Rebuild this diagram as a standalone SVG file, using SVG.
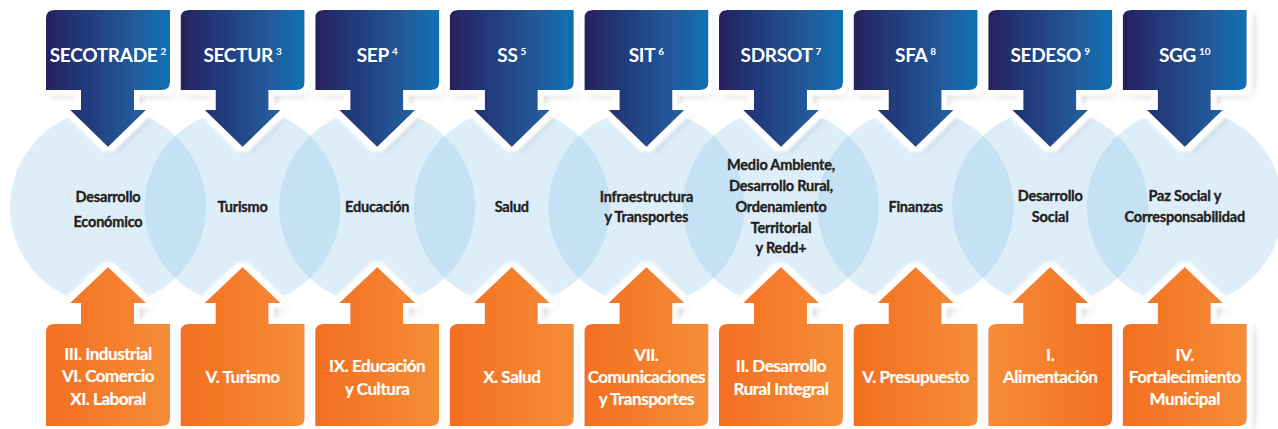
<svg xmlns="http://www.w3.org/2000/svg" xmlns:xlink="http://www.w3.org/1999/xlink" width="1278" height="429" viewBox="0 0 1278 429">
<style>
.circ{fill:#7bbbe9;fill-opacity:0.25}
.bt{font-family:Lato,"Liberation Sans",sans-serif;font-weight:700;font-size:19px;letter-spacing:-0.3px;fill:#fff;text-anchor:middle}
.sup{font-size:10px;letter-spacing:0}
.ct{font-family:Lato,"Liberation Sans",sans-serif;font-weight:700;font-size:14.5px;letter-spacing:-0.2px;fill:#231f20;stroke:#231f20;stroke-width:0.35px;text-anchor:middle}
.ot{font-family:Lato,"Liberation Sans",sans-serif;font-weight:700;font-size:17px;letter-spacing:-0.45px;fill:#fff;stroke:#fff;stroke-width:0.2px;text-anchor:middle}
.blue{fill:url(#gBlue);filter:url(#sh)}
.orange{fill:url(#gOr);filter:url(#sh)}
.orange2{fill:url(#gOr2);filter:url(#sh)}
</style>
<defs>
<linearGradient id="gBlue" x1="0" y1="0" x2="1" y2="0">
<stop offset="0" stop-color="#27215f"/>
<stop offset="0.35" stop-color="#213d7d"/>
<stop offset="0.7" stop-color="#23599a"/>
<stop offset="1" stop-color="#0e72b5"/>
</linearGradient>
<linearGradient id="gOr" x1="0" y1="0" x2="1" y2="0">
<stop offset="0" stop-color="#f36f21"/>
<stop offset="1" stop-color="#f68d37"/>
</linearGradient>
<linearGradient id="gOr2" x1="0" y1="0" x2="1" y2="0">
<stop offset="0" stop-color="#f68d37"/>
<stop offset="1" stop-color="#f36f21"/>
</linearGradient>
<filter id="sh" x="-25%" y="-20%" width="160%" height="150%">
<feGaussianBlur in="SourceAlpha" stdDeviation="4" result="b"/>
<feOffset in="b" dx="5" dy="4" result="o"/>
<feFlood flood-color="#000" flood-opacity="0.32"/>
<feComposite in2="o" operator="in" result="shadow"/>
<feMorphology in="SourceAlpha" operator="dilate" radius="5" result="d"/>
<feGaussianBlur in="d" stdDeviation="1" result="d2"/>
<feFlood flood-color="#fff"/>
<feComposite in2="d2" operator="in" result="halo"/>
<feMerge><feMergeNode in="shadow"/><feMergeNode in="halo"/><feMergeNode in="SourceGraphic"/></feMerge>
</filter>
<path id="down" d="M-54,10 H62 V82 Q62,90 54,90 H26 V110 H38 L0,147 L-38,110 H-27 V90 H-62 V18 Q-62,10 -54,10 Z"/>
<path id="up" d="M0,267 L38,303 H26 V324 H62 V418 Q62,426 54,426 H-62 V332 Q-62,324 -54,324 H-27 V303 H-38 Z"/>
</defs>

<g id="circles">
<circle class="circ" cx="108" cy="207" r="98"/>
<circle class="circ" cx="242.6" cy="207" r="98"/>
<circle class="circ" cx="377.2" cy="207" r="98"/>
<circle class="circ" cx="511.8" cy="207" r="98"/>
<circle class="circ" cx="646.4" cy="207" r="98"/>
<circle class="circ" cx="781" cy="207" r="98"/>
<circle class="circ" cx="915.6" cy="207" r="98"/>
<circle class="circ" cx="1050.2" cy="207" r="98"/>
<circle class="circ" cx="1184.8" cy="207" r="98"/>
</g>

<g id="connectors"></g>

<g id="secotrade"><use href="#down" x="108" class="blue"/><text class="bt" x="108" y="62">SECOTRADE<tspan class="sup" dx="3" dy="-7">2</tspan></text></g>
<g id="sectur"><use href="#down" x="242.6" class="blue"/><text class="bt" x="242.6" y="62">SECTUR<tspan class="sup" dx="3" dy="-7">3</tspan></text></g>
<g id="sep"><use href="#down" x="377.2" class="blue"/><text class="bt" x="377.2" y="62">SEP<tspan class="sup" dx="3" dy="-7">4</tspan></text></g>
<g id="ss"><use href="#down" x="511.8" class="blue"/><text class="bt" x="511.8" y="62">SS<tspan class="sup" dx="3" dy="-7">5</tspan></text></g>
<g id="sit"><use href="#down" x="646.4" class="blue"/><text class="bt" x="646.4" y="62">SIT<tspan class="sup" dx="3" dy="-7">6</tspan></text></g>
<g id="sdrsot"><use href="#down" x="781" class="blue"/><text class="bt" x="781" y="62">SDRSOT<tspan class="sup" dx="3" dy="-7">7</tspan></text></g>
<g id="sfa"><use href="#down" x="915.6" class="blue"/><text class="bt" x="915.6" y="62">SFA<tspan class="sup" dx="3" dy="-7">8</tspan></text></g>
<g id="sedeso"><use href="#down" x="1050.2" class="blue"/><text class="bt" x="1050.2" y="62">SEDESO<tspan class="sup" dx="3" dy="-7">9</tspan></text></g>
<g id="sgg"><use href="#down" x="1184.8" class="blue"/><text class="bt" x="1184.8" y="62">SGG<tspan class="sup" dx="3" dy="-7">10</tspan></text></g>

<g id="c-economico"><text class="ct" x="108" y="202">Desarrollo</text><text class="ct" x="108" y="227">Económico</text></g>
<g id="c-turismo"><text class="ct" x="242.6" y="212">Turismo</text></g>
<g id="c-educacion"><text class="ct" x="377.2" y="212">Educación</text></g>
<g id="c-salud"><text class="ct" x="511.8" y="212">Salud</text></g>
<g id="c-infra"><text class="ct" x="646.4" y="202">Infraestructura</text><text class="ct" x="646.4" y="222">y Transportes</text></g>
<g id="c-medio"><text class="ct" x="781" y="169.5">Medio Ambiente,</text><text class="ct" x="781" y="190.5">Desarrollo Rural,</text><text class="ct" x="781" y="211.5">Ordenamiento</text><text class="ct" x="781" y="232.5">Territorial</text><text class="ct" x="781" y="253">y Redd+</text></g>
<g id="c-finanzas"><text class="ct" x="915.6" y="212">Finanzas</text></g>
<g id="c-social"><text class="ct" x="1050.2" y="201">Desarrollo</text><text class="ct" x="1050.2" y="222">Social</text></g>
<g id="c-paz"><text class="ct" x="1184.8" y="201">Paz Social y</text><text class="ct" x="1184.8" y="222">Corresponsabilidad</text></g>

<g id="o-industrial"><use href="#up" x="108" class="orange"/><text class="ot" x="108" y="360">III. Industrial</text><text class="ot" x="108" y="382">VI. Comercio</text><text class="ot" x="108" y="405">XI. Laboral</text></g>
<g id="o-turismo"><use href="#up" x="242.6" class="orange"/><text class="ot" x="242.6" y="383">V. Turismo</text></g>
<g id="o-educacion"><use href="#up" x="377.2" class="orange"/><text class="ot" x="377.2" y="372">IX. Educación</text><text class="ot" x="377.2" y="395">y Cultura</text></g>
<g id="o-salud"><use href="#up" x="511.8" class="orange"/><text class="ot" x="511.8" y="383">X. Salud</text></g>
<g id="o-comunicaciones"><use href="#up" x="646.4" class="orange"/><text class="ot" x="646.4" y="361">VII.</text><text class="ot" x="646.4" y="383">Comunicaciones</text><text class="ot" x="646.4" y="405">y Transportes</text></g>
<g id="o-rural"><use href="#up" x="781" class="orange"/><text class="ot" x="781" y="372">II. Desarrollo</text><text class="ot" x="781" y="395">Rural Integral</text></g>
<g id="o-presupuesto"><use href="#up" x="915.6" class="orange"/><text class="ot" x="915.6" y="383">V. Presupuesto</text></g>
<g id="o-alimentacion"><use href="#up" x="1050.2" class="orange2"/><text class="ot" x="1050.2" y="361">I.</text><text class="ot" x="1050.2" y="383">Alimentación</text></g>
<g id="o-municipal"><use href="#up" x="1184.8" class="orange"/><text class="ot" x="1184.8" y="361">IV.</text><text class="ot" x="1184.8" y="383">Fortalecimiento</text><text class="ot" x="1184.8" y="405">Municipal</text></g>
</svg>
